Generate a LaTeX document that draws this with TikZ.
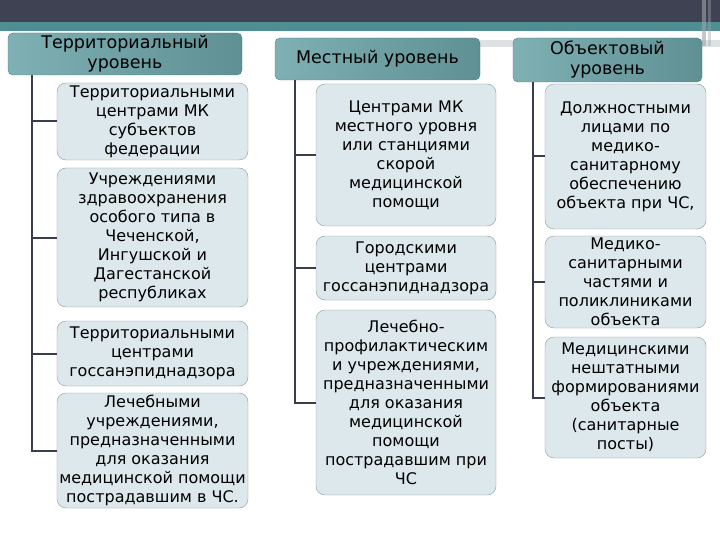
\documentclass[tikz,border=0pt]{standalone}
\usepackage{fontspec}
\setmainfont{DejaVu Sans}
\usetikzlibrary{positioning,calc}
\definecolor{barink}{HTML}{3F4252}
\definecolor{teal}{HTML}{4F8F93}
\definecolor{headlight}{HTML}{7FB0B3}
\definecolor{headdark}{HTML}{5E9094}
\definecolor{headedge}{HTML}{4E7F83}
\definecolor{unitfill}{HTML}{DCE8EB}
\definecolor{unitedge}{HTML}{8A9CA0}
\definecolor{linkink}{HTML}{3A3D4C}
\definecolor{paleband}{HTML}{DDE1E3}
\definecolor{stripe}{HTML}{9EA3AA}
\tikzset{
  levelbox/.style={draw=headedge, rounded corners=5pt, left color=headlight, right color=headdark, align=center, inner sep=1pt, font=\fontsize{17.5}{20}\selectfont, text=black},
  unitbox/.style={draw=unitedge, rounded corners=9pt, fill=unitfill, align=center, inner sep=1pt, font=\fontsize{16}{19}\selectfont, text=black},
  link/.style={draw=linkink, line width=2pt}
}
\begin{document}
\begin{tikzpicture}[x=1pt, y=-1pt]
\useasboundingbox (0,0) rectangle (720,540);
\fill[white] (0,0) rectangle (720,540);
% top bar
\fill[barink] (0,0) rectangle (720,22);
\fill[teal] (0,22) rectangle (720,31);
\fill[paleband] (480,40) rectangle (720,47);
\fill[stripe, opacity=0.6] (702,0) rectangle (706,46);
\fill[stripe, opacity=0.4] (708,0) rectangle (711,46);
% level headers
\node[levelbox, minimum width=234pt, minimum height=42pt] (lvlterr) at (125,54) {Территориальный\\уровень};
\node[levelbox, minimum width=205pt, minimum height=42pt] (lvlloc) at (377.5,59) {Местный уровень};
\node[levelbox, minimum width=189pt, minimum height=44pt] (lvlobj) at (607.5,60) {Объектовый\\уровень};
% territorial units
\node[unitbox, minimum width=191pt, minimum height=77pt] (terr1) at (152.5,121.5) {Территориальными\\центрами МК\\субъектов\\федерации};
\node[unitbox, minimum width=191pt, minimum height=139pt] (terr2) at (152.5,237.5) {Учреждениями\\здравоохранения\\особого типа в\\Чеченской,\\Ингушской и\\Дагестанской\\республиках};
\node[unitbox, minimum width=191pt, minimum height=65pt] (terr3) at (152.5,353.5) {Территориальными\\центрами\\госсанэпиднадзора};
\node[unitbox, minimum width=191pt, minimum height=115pt] (terr4) at (152.5,450.5) {Лечебными\\учреждениями,\\предназначенными\\для оказания\\медицинской помощи\\пострадавшим в ЧС.};
% local units
\node[unitbox, minimum width=180pt, minimum height=142pt] (loc1) at (406,155) {Центрами МК\\местного уровня\\или станциями\\скорой\\медицинской\\помощи};
\node[unitbox, minimum width=180pt, minimum height=64pt] (loc2) at (406,268) {Городскими\\центрами\\госсанэпиднадзора};
\node[unitbox, minimum width=180pt, minimum height=185pt] (loc3) at (406,402.5) {Лечебно-\\профилактическим\\и учреждениями,\\предназначенными\\для оказания\\медицинской\\помощи\\пострадавшим при\\ЧС};
% object units
\node[unitbox, minimum width=161pt, minimum height=145pt] (obj1) at (625.5,156.5) {Должностными\\лицами по\\медико-\\санитарному\\обеспечению\\объекта при ЧС,};
\node[unitbox, minimum width=161pt, minimum height=92pt] (obj2) at (625.5,282) {Медико-\\санитарными\\частями и\\поликлиниками\\объекта};
\node[unitbox, minimum width=161pt, minimum height=121pt] (obj3) at (625.5,397.5) {Медицинскими\\нештатными\\формированиями\\объекта\\(санитарные\\посты)};
% spines
\coordinate (sterr) at ($(lvlterr.south west)+(24,0)$);
\coordinate (sloc) at ($(lvlloc.south west)+(20,0)$);
\coordinate (sobj) at ($(lvlobj.south west)+(20,0)$);
\draw[link] (sterr) |- (terr4.west);
\foreach \u in {terr1,terr2,terr3} \draw[link] (sterr |- \u.west) -- (\u.west);
\draw[link] (sloc) |- (loc3.west);
\foreach \u in {loc1,loc2} \draw[link] (sloc |- \u.west) -- (\u.west);
\draw[link] (sobj) |- (obj3.west);
\foreach \u in {obj1,obj2} \draw[link] (sobj |- \u.west) -- (\u.west);
\end{tikzpicture}
\end{document}
